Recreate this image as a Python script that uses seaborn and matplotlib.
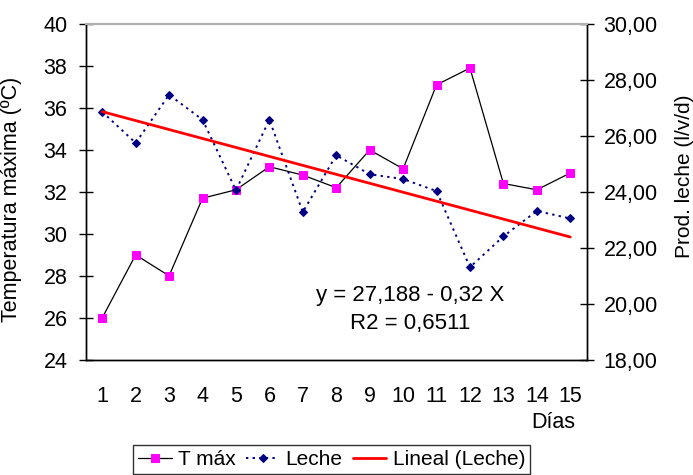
import seaborn as sns
import matplotlib.pyplot as plt
import matplotlib.ticker as mticker
import pandas as pd
import numpy as np

# Data
dias = list(range(1, 16))
t_max = [26.0, 29.0, 28.0, 31.7, 32.1, 33.2, 32.8, 32.2, 34.0, 33.1, 37.1, 37.9, 32.4, 32.1, 32.9]
leche = [26.86, 25.75, 27.47, 26.58, 24.06, 26.58, 23.28, 25.31, 24.63, 24.46, 24.03, 21.31, 22.41, 23.32, 23.05]
# trend line coefficients as printed on the chart
intercept = 27.188
slope = -0.32

df = pd.DataFrame({"Dia": dias, "Tmax": t_max, "Leche": leche})
df["Lineal"] = intercept + slope * df["Dia"]

sns.set_style("white")
plt.rcParams['font.family'] = ['Liberation Sans', 'DejaVu Sans']
plt.rcParams.update({"text.color": "black", "axes.labelcolor": "black",
                     "xtick.color": "black", "ytick.color": "black"})
fs = 15.5

fig = plt.figure(figsize=(6.93, 4.75), dpi=100)
ax = fig.add_axes([0.1234, 0.2425, 0.847 - 0.1234, 0.9495 - 0.2425])
ax2 = ax.twinx()

sns.lineplot(data=df, x="Dia", y="Tmax", ax=ax, color="black", lw=0.9,
             marker="s", markersize=6, markerfacecolor="#ff00ff",
             markeredgecolor="#ff00ff", label="T máx", legend=False)
sns.lineplot(data=df, x="Dia", y="Leche", ax=ax2, color="#000080", lw=1.4,
             linestyle=(0, (1.2, 2.2)), marker="D", markersize=4.5,
             markerfacecolor="#000080", markeredgecolor="#000080",
             label="Leche", legend=False)
sns.lineplot(data=df, x="Dia", y="Lineal", ax=ax2, color="#ff0000", lw=2,
             label="Lineal (Leche)", legend=False)

ax.set_xlim(0.5, 15.5)
ax.set_ylim(24, 40)
ax2.set_ylim(18, 30)
ax.set_yticks(np.arange(24, 41, 2))
ax2.set_yticks(np.arange(18, 31, 2))
ax2.yaxis.set_major_formatter(mticker.FuncFormatter(lambda v, p: f"{v:.2f}".replace(".", ",")))

# category boundary ticks, labels at centres
ax.set_xticks(np.arange(0.5, 15.6, 1))
ax.set_xticklabels([])
ax.set_xticks(dias, minor=True)
ax.set_xticklabels([str(d) for d in dias], minor=True)
ax.tick_params(axis="x", which="major", direction="inout", length=12, width=1)
ax.tick_params(axis="x", which="minor", length=0, pad=19, labelsize=fs)
ax.tick_params(axis="y", direction="inout", length=10, width=1, pad=8, labelsize=fs)
ax2.tick_params(axis="y", direction="inout", length=10, width=1, pad=7, labelsize=fs)

ax.set_xlabel("")
ax.set_ylabel("Temperatura máxima (ºC)", fontsize=fs)
ax2.set_ylabel("Prod. leche (l/v/d)", fontsize=15)
ax.yaxis.set_label_coords(-0.127, 0.479)
ax2.yaxis.set_label_coords(1.176, 0.548)

for a in (ax, ax2):
    for s in ["left", "right", "bottom"]:
        a.spines[s].set_color("black")
        a.spines[s].set_linewidth(1)
    a.spines["top"].set_color("#b0b0b0")
    a.spines["top"].set_linewidth(1.5)

ax.text(0.647, 0.150, "y = 27,188 - 0,32 X\nR2 = 0,6511", transform=ax.transAxes,
        ha="center", va="center", fontsize=fs + 0.5, linespacing=1.45)
fig.text(553 / 693, 1 - 422 / 475, "Días", ha="center", va="center", fontsize=fs)

handles = ax.get_lines()[:1] + ax2.get_lines()[:2]
leg = fig.legend(handles, ["T máx", "Leche", "Lineal (Leche)"], loc="upper center",
                 bbox_to_anchor=(0.4785, 0.064), ncol=3, fontsize=15, frameon=True,
                 fancybox=False, edgecolor="black", handlelength=1.6, handletextpad=0.3,
                 columnspacing=0.5, borderpad=0.25, borderaxespad=0)
leg.get_frame().set_linewidth(1)

plt.savefig("out.png", dpi=100)
